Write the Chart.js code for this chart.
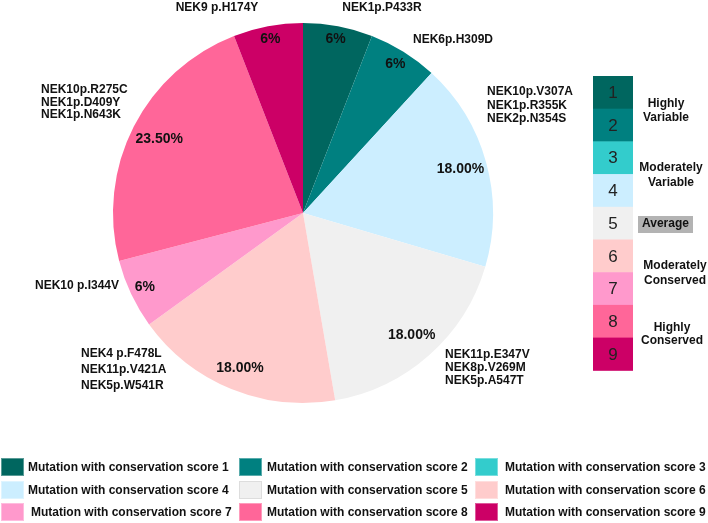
<!DOCTYPE html>
<html>
<head>
<meta charset="utf-8">
<script src="https://cdn.jsdelivr.net/npm/chart.js@4"></script>
<style>
html,body{margin:0;padding:0;background:#fff;}
canvas{display:block;}
</style>
</head>
<body>
<canvas id="c" width="708" height="523" style="width:708px;height:523px"></canvas>
<script>
// ---- data ----
const categories = [
  'Mutation with conservation score 1','Mutation with conservation score 2','Mutation with conservation score 3',
  'Mutation with conservation score 4','Mutation with conservation score 5','Mutation with conservation score 6',
  'Mutation with conservation score 7','Mutation with conservation score 8','Mutation with conservation score 9'
];
const scores = ['1','2','3','4','5','6','7','8','9'];
const values = [6, 6, 0, 18, 18, 18, 6, 23.5, 6];
const percentLabels = ['6%','6%','','18.00%','18.00%','18.00%','6%','23.50%','6%'];
const mutations = [
  ['NEK1p.P433R'],
  ['NEK6p.H309D'],
  [],
  ['NEK10p.V307A','NEK1p.R355K','NEK2p.N354S'],
  ['NEK11p.E347V','NEK8p.V269M','NEK5p.A547T'],
  ['NEK4 p.F478L','NEK11p.V421A','NEK5p.W541R'],
  ['NEK10 p.I344V'],
  ['NEK10p.R275C','NEK1p.D409Y','NEK1p.N643K'],
  ['NEK9 p.H174Y']
];
const groupLabels = [
  {lines:['Highly','Variable']},
  {lines:['Moderately','Variable']},
  {lines:['Average'], boxed:true},
  {lines:['Moderately','Conserved']},
  {lines:['Highly','Conserved']}
];

// ---- styles ----
const colors = ['#00665f','#008080','#33cccc','#cceeff','#f0f0f0','#ffcccc','#ff99cc','#ff6699','#cc0066'];
const FONT = '"Liberation Sans", Arial, Helvetica, sans-serif';
const pctRadius = [0.93,0.92,0.9,0.86,0.86,0.88,0.92,0.85,0.93];
const mutLayout = [
  {dx:79, dy:-205, align:'center', lh:13},
  {dx:150, dy:-173, align:'center', lh:13},
  null,
  {dx:184, dy:-121, align:'left', lh:13.5},
  {dx:142, dy:142, align:'left', lh:13},
  {dx:-222, dy:141, align:'left', lh:16},
  {dx:-268, dy:73, align:'left', lh:13},
  {dx:-262, dy:-123, align:'left', lh:12.5},
  {dx:-86, dy:-205, align:'center', lh:13}
];
const groupX = [666, 671, 665.5, 675, 672];
const groupY = [[104,118],[168,183],[224],[266,281],[328,341]];

const overlay = {
  id:'overlay',
  afterDraw(chart){
    const ctx = chart.ctx;
    const meta = chart.getDatasetMeta(0);
    ctx.save();
    ctx.textBaseline = 'middle';
    ctx.fillStyle = '#111';
    ctx.font = 'bold 14px ' + FONT;
    ctx.textAlign = 'center';
    meta.data.forEach((arc, i) => {
      if (!percentLabels[i]) return;
      const mid = (arc.startAngle + arc.endAngle) / 2;
      const r = arc.outerRadius * pctRadius[i];
      ctx.fillText(percentLabels[i], arc.x + Math.cos(mid) * r, arc.y + Math.sin(mid) * r);
    });
    const cx = meta.data[0].x, cy = meta.data[0].y;
    ctx.font = 'bold 12px ' + FONT;
    mutations.forEach((lines, i) => {
      const L = mutLayout[i];
      if (!L) return;
      ctx.textAlign = L.align;
      lines.forEach((t, k) => ctx.fillText(t, cx + L.dx, cy + L.dy + k * L.lh));
    });
    const bx = 593, bw = 40, by = 76, bh = 32.7;
    scores.forEach((s, i) => {
      ctx.fillStyle = colors[i];
      ctx.fillRect(bx, by + i * bh, bw, bh + 0.5);
      ctx.fillStyle = '#222';
      ctx.font = '17px ' + FONT;
      ctx.textAlign = 'center';
      ctx.fillText(s, bx + bw / 2, by + i * bh + bh / 2 + 1);
    });
    ctx.font = 'bold 12px ' + FONT;
    groupLabels.forEach((g, i) => {
      if (g.boxed) {
        ctx.fillStyle = '#b3b3b3';
        ctx.fillRect(638, 216, 55, 17);
      }
      ctx.fillStyle = '#111';
      ctx.textAlign = 'center';
      g.lines.forEach((t, k) => ctx.fillText(t, groupX[i], groupY[i][k]));
    });
    const colX = [1, 239, 475];
    const textOff = [27, 28, 30];
    const rowY = [467, 490, 512];
    ctx.font = 'bold 12px ' + FONT;
    ctx.textAlign = 'left';
    categories.forEach((c, i) => {
      const col = i % 3, row = Math.floor(i / 3);
      const x = colX[col], y = rowY[row];
      ctx.fillStyle = colors[i];
      ctx.fillRect(x, y - 9, 23, 18);
      ctx.strokeStyle = i === 4 ? '#dddddd' : 'rgba(255,255,255,0.35)';
      ctx.lineWidth = 1;
      ctx.strokeRect(x + 0.5, y - 8.5, 22, 17);
      ctx.fillStyle = '#111';
      ctx.fillText(c, x + textOff[col] + (i === 6 ? 3 : 0), y + 1);
    });
    ctx.restore();
  }
};

new Chart(document.getElementById('c'), {
  type: 'pie',
  data: {
    labels: categories,
    datasets: [{
      data: values,
      backgroundColor: colors,
      borderWidth: 0
    }]
  },
  options: {
    responsive: false,
    animation: false,
    devicePixelRatio: 1,
    layout: { padding: { left: 113, right: 215, top: 23, bottom: 120 } },
    plugins: {
      legend: { display: false },
      tooltip: { enabled: false }
    }
  },
  plugins: [overlay]
});
</script>
</body>
</html>
